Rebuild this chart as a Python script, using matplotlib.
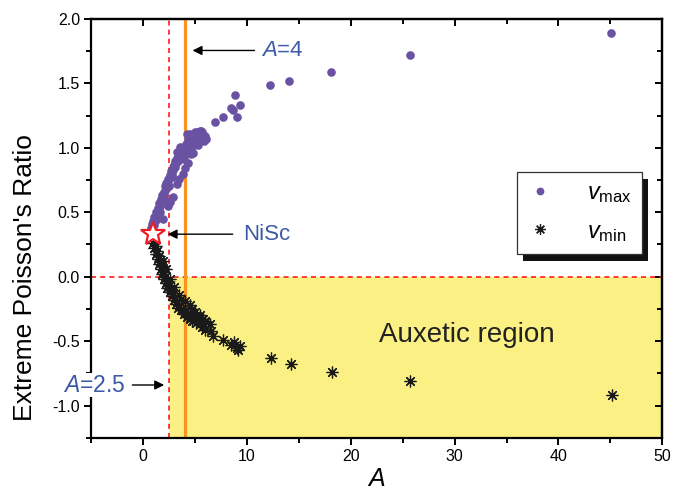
import numpy as np
import matplotlib
matplotlib.use("Agg")
import matplotlib.pyplot as plt
from matplotlib.patches import Rectangle
from matplotlib.ticker import MultipleLocator

plt.rcParams["font.family"] = ["Liberation Sans", "DejaVu Sans"]
plt.rcParams["mathtext.fontset"] = "custom"
plt.rcParams["mathtext.rm"] = "Liberation Sans"
plt.rcParams["mathtext.it"] = "Liberation Sans:italic"
plt.rcParams["axes.unicode_minus"] = False

# maximum Poisson's ratio vs anisotropy A
vmax_A = [0.75, 0.85, 0.95, 1.05, 1.1, 1.2, 1.25, 1.35, 1.4, 1.5, 1.55, 1.6,
          1.7, 1.75, 1.85, 1.9, 2.0, 2.05, 2.1, 2.2, 2.25, 2.3, 2.4, 2.45,
          2.55, 2.6, 2.7, 2.75, 2.85, 2.9, 3.0, 3.05, 3.1, 3.2, 3.3, 3.4,
          3.5, 3.6, 3.7, 3.8, 3.9, 4.0, 4.1, 4.2, 4.3, 4.4, 4.5, 4.6, 4.7,
          4.8, 4.9, 5.0, 5.2, 5.4, 5.6, 5.8, 5.9, 3.3, 3.6, 2.5, 2.0, 1.6,
          3.9, 2.8, 4.4, 5.3, 4.2, 5.5, 6.0, 1.9, 2.4, 2.9, 3.3, 3.8, 4.3,
          4.6, 2.6, 3.5, 4.0, 5.0, 4.8, 5.7, 6.1,
          6.9, 7.7, 8.5, 8.7, 9.0, 9.3, 8.85, 12.2, 14.1, 18.1, 25.7, 45.1]
vmax_v = [0.38, 0.41, 0.43, 0.40, 0.46, 0.44, 0.50, 0.48, 0.53, 0.51, 0.57, 0.55,
          0.60, 0.58, 0.63, 0.61, 0.66, 0.64, 0.70, 0.68, 0.73, 0.71, 0.76, 0.74,
          0.79, 0.77, 0.82, 0.80, 0.85, 0.83, 0.87, 0.85, 0.90, 0.88, 0.92, 0.90,
          0.95, 0.93, 0.97, 0.95, 1.00, 0.98, 1.03, 0.96, 1.07, 1.01, 1.11, 0.98, 1.04,
          1.09, 1.02, 1.06, 1.12, 1.08, 1.13, 1.10, 1.05, 0.97, 1.01, 0.70, 0.60, 0.50,
          0.91, 0.77, 1.06, 1.02, 1.11, 1.13, 1.09, 0.45, 0.55, 0.62, 0.72, 0.80, 0.88,
          0.95, 0.58, 0.76, 0.84, 1.12, 0.96, 1.12, 1.07,
          1.20, 1.24, 1.31, 1.29, 1.24, 1.33, 1.41, 1.49, 1.52, 1.59, 1.72, 1.89]

# minimum Poisson's ratio vs anisotropy A
vmin_A = [1.0, 1.1, 1.2, 1.25, 1.35, 1.4, 1.5, 1.55, 1.65, 1.7, 1.8, 1.85,
          1.95, 2.0, 2.1, 2.2, 2.3, 2.35, 2.45, 2.55, 2.65, 2.75, 2.85, 2.95,
          3.05, 3.15, 3.3, 3.4, 3.5, 3.65, 3.8, 3.9, 4.05, 4.2, 4.35, 4.5,
          4.6, 4.75, 4.9, 5.1, 5.3, 5.5, 5.7, 5.9, 6.0, 2.6, 3.0, 3.5, 4.0,
          4.5, 5.0, 5.5, 6.0, 6.4, 2.2, 1.9, 4.7, 3.7, 6.5, 5.8,
          6.75, 7.7, 8.5, 8.8, 9.0, 9.3, 9.1, 12.35, 14.2, 18.2, 25.7, 45.2]
vmin_v = [0.26, 0.22, 0.24, 0.18, 0.20, 0.14, 0.16, 0.10, 0.12, 0.06, 0.08, 0.02,
          0.04, -0.02, 0.0, -0.05, -0.03, -0.09, -0.07, -0.12, -0.10, -0.15, -0.13, -0.18,
          -0.16, -0.21, -0.19, -0.24, -0.22, -0.26, -0.25, -0.29, -0.27, -0.31, -0.29, -0.33,
          -0.31, -0.34, -0.32, -0.36, -0.34, -0.37, -0.39, -0.37, -0.41, -0.02, -0.08, -0.14, -0.19,
          -0.22, -0.27, -0.30, -0.34, -0.37, 0.06, 0.12, -0.25, -0.17, -0.42, -0.33,
          -0.46, -0.49, -0.53, -0.51, -0.55, -0.54, -0.57, -0.634, -0.674, -0.74, -0.81, -0.92]

nisc = (1.0, 0.33)
a_iso = 2.5
a_line = 4

purple = "#6a52a3"
blue = "#3c5aa6"

fig = plt.figure(figsize=(6.8, 4.97), dpi=100)
ax = fig.add_axes([0.134, 0.119, 0.84, 0.843])

ax.set_xlim(-5, 50)
ax.set_ylim(-1.25, 2.0)

# auxetic region
ax.add_patch(Rectangle((a_iso, -1.25), 50 - a_iso, 1.25, facecolor="#faf084",
                       edgecolor="none", zorder=0))
ax.axhline(0, color="#ff1a1a", lw=1.2, ls=(0, (3, 2.5)), zorder=1)
ax.axvline(a_iso, color="#ff1a1a", lw=1.2, ls=(0, (3, 2.5)), zorder=1)
ax.axvline(a_line, color="#f7931e", lw=2.3, zorder=1)

ax.plot(vmax_A, vmax_v, "o", color=purple, ms=6.2, mew=0, zorder=3,
        label=r"$v_{\rm max}$")
ax.plot(vmin_A, vmin_v, ls="none", marker=(8, 2, 0), color="#1a1a1a", ms=8.5,
        mew=0.9, zorder=3, label=r"$v_{\rm min}$")
ax.plot(*nisc, marker="*", ms=18, mfc="white", mec="#ee1c24", mew=1.6, zorder=4)

arrow = dict(arrowstyle="-|>", color="black", lw=1.0, mutation_scale=14)
ax.annotate("", xy=(4.5, 1.755), xytext=(11.0, 1.755), arrowprops=arrow)
ax.text(11.4, 1.755, "$A$=4", color=blue, fontsize=16, va="center")
ax.annotate("", xy=(2.1, 0.33), xytext=(8.9, 0.33), arrowprops=arrow)
ax.text(9.6, 0.33, "NiSc", color=blue, fontsize=16, va="center")
ax.annotate("", xy=(2.3, -0.84), xytext=(-1.3, -0.84), arrowprops=arrow)
ax.text(-1.7, -0.84, "$A$=2.5", color=blue, fontsize=16.5, va="center", ha="right",
        zorder=6, clip_on=False,
        bbox=dict(facecolor="white", edgecolor="none", pad=0.5))

ax.text(31.2, -0.45, "Auxetic region", fontsize=20, color="#222222",
        ha="center", va="center")

ax.set_xlabel("$A$", fontsize=18, labelpad=2)
ax.set_ylabel("Extreme Poisson's Ratio", fontsize=19)
ax.yaxis.set_label_coords(-0.094, 0.383)

for s in ax.spines.values():
    s.set_linewidth(1.6)
ax.xaxis.set_major_locator(MultipleLocator(10))
ax.xaxis.set_minor_locator(MultipleLocator(5))
ax.yaxis.set_major_locator(MultipleLocator(0.5))
ax.yaxis.set_minor_locator(MultipleLocator(0.25))
ax.yaxis.set_major_formatter(matplotlib.ticker.FormatStrFormatter("%.1f"))
ax.tick_params(which="both", direction="out", width=1.4, labelsize=11.5, pad=3)
ax.tick_params(which="major", length=5)
ax.tick_params(which="minor", length=3.5)

# mirrored ticks pointing inward on top and right
top = ax.secondary_xaxis("top")
right = ax.secondary_yaxis("right")
for sec in (top, right):
    sec.tick_params(which="both", direction="in", width=1.4, labeltop=False,
                    labelright=False)
    sec.tick_params(which="major", length=5)
    sec.tick_params(which="minor", length=3.5)
    for s in sec.spines.values():
        s.set_linewidth(1.6)
top.xaxis.set_major_locator(MultipleLocator(10))
top.xaxis.set_minor_locator(MultipleLocator(5))
right.yaxis.set_major_locator(MultipleLocator(0.5))
right.yaxis.set_minor_locator(MultipleLocator(0.25))

leg = ax.legend(loc="upper left", bbox_to_anchor=(0.746, 0.635), fontsize=17,
                frameon=True, fancybox=False, edgecolor="#333333",
                facecolor="white", framealpha=1, borderaxespad=0,
                handlelength=1.0, handletextpad=1.5, labelspacing=0.65,
                borderpad=0.45, markerscale=0.9)
leg.get_frame().set_linewidth(0.9)
leg.set_zorder(8)

fig.canvas.draw()
bb = leg.get_frame().get_window_extent()
inv = ax.transAxes.inverted()
(x0, y0), (x1, y1) = inv.transform([(bb.x0 + 6, bb.y0 - 7), (bb.x1 + 6, bb.y1 - 7)])
ax.add_patch(Rectangle((x0, y0), x1 - x0, y1 - y0, transform=ax.transAxes,
                       facecolor="#111111", edgecolor="none", zorder=7,
                       clip_on=False))

fig.savefig("out.png", dpi=100)
